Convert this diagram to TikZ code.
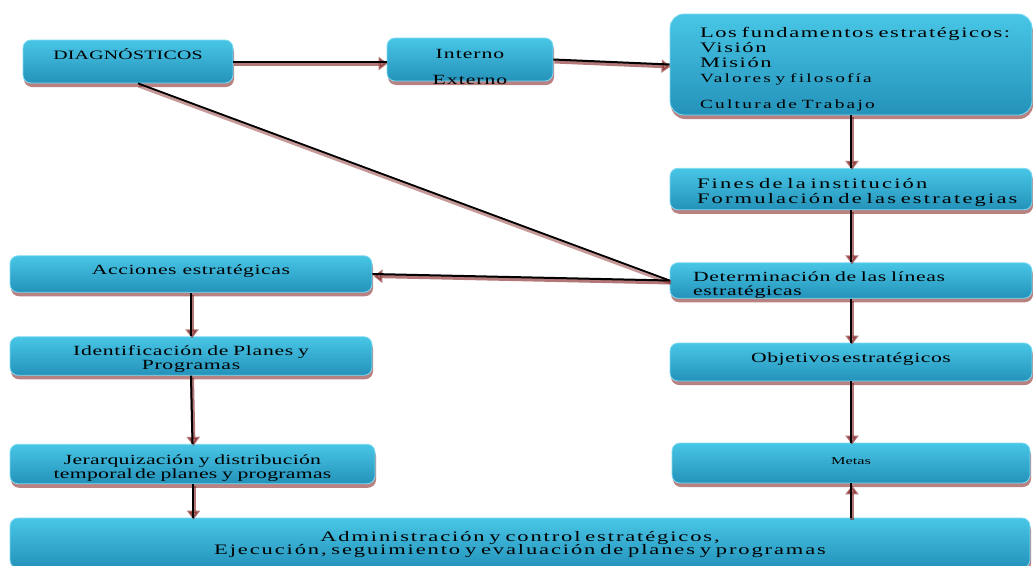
\documentclass[tikz,border=0pt]{standalone}
\usepackage{fontspec}
\setmainfont[FakeStretch=1.55]{Liberation Serif}
\usetikzlibrary{arrows.meta, shadows, positioning}
\definecolor{boxtop}{RGB}{72, 198, 230}
\definecolor{boxbot}{RGB}{36, 146, 186}
\definecolor{boxedge}{RGB}{125, 218, 242}
\definecolor{shadered}{RGB}{128, 28, 28}
% size, line skip, letter spacing
\newcommand{\boxfont}[3]{\fontsize{#1}{#2}\selectfont
  \addfontfeatures{LetterSpace=#3}}

\tikzset{
  stepbox/.style={rounded corners=8pt, top color=boxtop, bottom color=boxbot,
    draw=boxedge, line width=0.8pt, inner sep=0pt, align=center,
    drop shadow={fill=shadered, opacity=0.55, shadow xshift=1pt, shadow yshift=-4pt}},
  link/.style={line width=1.8pt, black,
    preaction={draw=shadered, opacity=0.45, line width=4.5pt,
      transform canvas={xshift=1pt, yshift=-2pt}}},
  arrowed/.style={line width=2pt, black,
    preaction={draw=shadered, opacity=0.6, line width=4pt,
      -{Triangle[length=9pt, width=13pt]},
      transform canvas={xshift=1pt, yshift=-2pt}}}
}

\begin{document}
\begin{tikzpicture}[x=1pt, y=-1pt]
  \useasboundingbox (0,0) rectangle (1033,565);

  % top row
  \node[stepbox, minimum width=210pt, text height=19.5pt, text depth=23.5pt,
    font=\boxfont{12.8}{16}{2}] (diag) at (128,61.5) {DIAGNÓSTICOS};
  \node[stepbox, minimum width=166pt, text width=150pt, text height=20pt, text depth=23pt,
    font=\boxfont{14}{26}{7}] (intext) at (470,59.5) {Interno\\Externo};
  \node[stepbox, minimum width=362pt, text width=302pt, align=left,
    text height=23pt, text depth=78pt, rounded corners=14pt,
    font=\boxfont{14.5}{15}{11}] (fund) at (851,64.5)
    {\mbox{Los fundamentos estratégicos:}\\Visión\\Misión\\
     {\boxfont{12.5}{15}{17}Valores y filosofía}\\[11pt]
     {\boxfont{12.5}{15}{18}Cultura de Trabajo}};

  % right column
  \node[stepbox, minimum width=362pt, text width=308pt, align=left,
    text height=20.5pt, text depth=21pt,
    font=\boxfont{14.5}{15}{15}] (fines) at (851,189)
    {Fines de la institución\\\mbox{Formulación de las estrategias}};
  \node[stepbox, minimum width=362pt, text width=316pt, align=left,
    text height=19pt, text depth=16.5pt,
    font=\boxfont{14}{14}{5}] (determ) at (851,280.5)
    {\mbox{Determinación de las líneas}\\estratégicas};
  \node[stepbox, minimum width=362pt, text height=19pt, text depth=19pt,
    font=\boxfont{14}{15}{4}] (objet) at (851,362)
    {Objetivos\,estratégicos};
  \node[stepbox, minimum width=358pt, text height=21pt, text depth=19pt,
    font=\boxfont{10.5}{14}{0}] (metas) at (851,463) {Metas};

  % left column
  \node[stepbox, minimum width=362pt, text height=19pt, text depth=17.5pt,
    font=\boxfont{14}{15}{4}] (acc) at (191,274)
    {Acciones estratégicas};
  \node[stepbox, minimum width=362pt, text width=340pt, text height=19pt, text depth=19.5pt,
    font=\boxfont{14}{13.6}{5}] (ident) at (191,356)
    {Identificación de Planes y\\Programas};
  \node[stepbox, minimum width=365pt, text width=345pt, text height=20.5pt, text depth=19pt,
    font=\boxfont{14}{13.4}{2}] (jerar) at (192.5,464)
    {Jerarquización y distribución\\temporal\,de planes y programas};

  % bottom
  \node[stepbox, minimum width=1020pt, text width=1000pt, text height=23pt, text depth=27pt,
    font=\boxfont{14.5}{13.5}{13}] (admin) at (520,543)
    {Administración y control estratégicos,\\
     Ejecución, seguimiento y evaluación de planes y programas};

  % connectors
  \draw[arrowed] (diag.east) -- (intext.west |- diag.east);
  \draw[arrowed] (intext.east) -- (fund.west);
  \draw[link] ([xshift=10pt]diag.south) -- (determ.west);
  \draw[arrowed] (determ.west) -- (acc.east);
  \draw[arrowed] (fund.south) -- (fines.north);
  \draw[arrowed] (fines.south) -- (determ.north);
  \draw[arrowed] (determ.south) -- (objet.north);
  \draw[arrowed] (objet.south) -- (metas.north);
  \draw[arrowed] (acc.south) -- (ident.north);
  \draw[arrowed] (ident.south) -- (jerar.north);
  \draw[arrowed] (jerar.south) -- (admin.north -| jerar.south);
  \draw[arrowed] (admin.north -| metas.south) -- (metas.south);
\end{tikzpicture}
\end{document}
